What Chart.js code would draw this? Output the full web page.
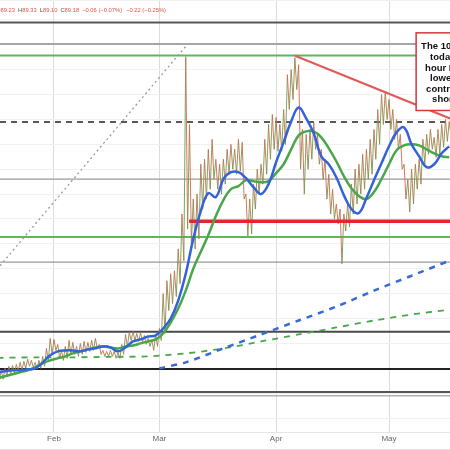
<!DOCTYPE html>
<html>
<head>
<meta charset="utf-8">
<script src="https://cdn.jsdelivr.net/npm/chart.js@4"></script>
<style>
    html, body { margin: 0; padding: 0; background: #fff; }
    #wrap { width: 450px; height: 450px; position: relative; }
</style>
</head>
<body>
<div id="wrap"><canvas id="chart"></canvas></div>
<script>
// daily high / low (day 0 = Jan 17)
const dayHigh = [
    64.6, 64.8, 65.0, 65.2, 65.3, 65.4, 65.6, 65.7, 65.9, 65.8,
    65.6, 65.8, 66.2, 67.0, 68.0, 67.9, 67.4, 66.8, 67.2, 67.8,
    67.6, 67.2, 67.5, 67.7, 67.6, 67.8, 68.0, 67.4, 66.8, 66.7,
    66.8, 66.7, 66.6, 67.4, 68.4, 68.6, 68.7, 68.5, 68.6, 68.3,
    68.0, 67.8, 68.4, 69.0, 72.5, 73.8, 74.5, 74.8, 77.0, 80.5,
    96.3, 89.5, 82.0, 82.5, 85.5, 86.0, 87.0, 88.0, 86.0, 85.5,
    86.0, 87.0, 87.5, 87.0, 88.0, 87.7, 82.5, 82.0, 83.5, 85.0,
    85.5, 88.0, 89.5, 90.5, 90.2, 89.5, 91.0, 94.5, 95.0, 96.2,
    95.5, 89.0, 88.5, 89.0, 89.7, 88.5, 87.0, 86.0, 84.5, 83.0,
    81.5, 81.0, 80.5, 81.5, 83.5, 85.0, 85.5, 86.5, 87.0, 88.0,
    89.0, 91.0, 92.5, 92.8, 92.0, 91.0, 90.0, 88.5, 85.5, 84.0,
    85.0, 85.5, 86.0, 88.0, 88.5, 89.0, 88.2, 89.0, 89.5, 90.0,
    89.8
];
const dayLow = [
    63.8, 63.9, 64.2, 64.4, 64.5, 64.7, 64.8, 65.0, 65.2, 65.1,
    64.9, 65.0, 65.2, 65.8, 66.4, 66.8, 66.0, 65.8, 66.0, 66.4,
    66.4, 66.2, 66.4, 66.6, 66.7, 66.8, 67.0, 66.4, 66.2, 66.2,
    66.2, 66.0, 66.0, 66.4, 67.2, 67.8, 67.8, 67.7, 67.6, 67.4,
    67.2, 66.8, 67.2, 67.8, 68.5, 70.8, 71.5, 72.2, 73.5, 75.8,
    79.0, 77.5, 77.0, 78.0, 81.0, 82.0, 83.0, 84.0, 83.0, 82.5,
    83.5, 84.5, 85.0, 84.5, 84.8, 82.0, 78.3, 78.5, 81.0, 82.5,
    83.5, 84.5, 86.0, 87.0, 86.8, 86.8, 87.5, 91.0, 92.0, 93.0,
    85.0, 82.5, 85.0, 86.0, 87.0, 85.5, 84.0, 82.0, 80.5, 80.0,
    79.5, 75.5, 78.8, 79.2, 80.5, 81.5, 82.5, 83.0, 84.0, 84.5,
    86.0, 87.5, 89.5, 90.0, 89.0, 88.0, 87.0, 85.0, 82.0, 80.7,
    81.5, 83.0, 83.5, 85.5, 86.5, 87.0, 86.2, 86.5, 87.2, 87.8,
    88.2
];

// moving averages, one value every 2 days
const ma100 = [
    64.6, 64.7, 64.8, 64.8, 64.9, 65.0, 65.6, 66.3, 66.7, 66.8,
    66.8, 66.7, 66.9, 67.0, 67.2, 67.1, 66.7, 67.1, 67.7, 67.9,
    68.2, 68.3, 69.0, 70.0, 71.8, 74.5, 78.0, 80.8, 82.6, 82.2,
    84.0, 84.7, 84.7, 84.1, 83.2, 82.5, 83.5, 85.7, 87.7, 89.8,
    91.2, 90.1, 88.6, 86.3, 85.5, 84.2, 82.4, 81.0, 80.6, 82.1,
    83.9, 85.6, 87.3, 88.7, 89.2, 87.5, 86.3, 85.2, 85.5, 86.6,
    87.3
];
const ma200 = [
    64.0, 64.2, 64.4, 64.6, 64.8, 65.1, 65.5, 65.8, 66.0, 66.2,
    66.5, 66.7, 66.9, 67.1, 67.2, 67.1, 67.0, 67.2, 67.3, 67.5,
    67.7, 67.9, 68.5, 69.6, 71.0, 72.8, 75.0, 76.7, 78.4, 80.3,
    81.9, 83.0, 83.3, 83.9, 83.8, 83.7, 83.8, 84.6, 85.5, 87.0,
    88.4, 88.8, 88.8, 88.2, 87.1, 85.8, 84.3, 83.1, 82.3, 82.0,
    82.7, 84.0, 85.5, 86.9, 87.4, 87.5, 87.4, 87.0, 86.6, 86.3,
    86.2
];

// slower averages (dashed)
const blueDashDays = [43, 50, 60, 70, 80, 90, 100, 110, 120];
const blueDashValues = [65.0, 65.6, 67.0, 68.4, 69.8, 71.2, 72.8, 74.3, 75.8];
const greenDashDays = [0, 10, 20, 30, 40, 50, 60, 70, 80, 90, 100, 110, 120];
const greenDashValues = [66.05, 66.1, 66.1, 66.15, 66.2, 66.5, 67.0, 67.7, 68.4, 69.1, 69.8, 70.4, 70.9];

// horizontal levels
const levelPrices = [99.75, 97.57, 96.43, 89.75, 84.0, 79.78, 78.2, 75.67, 68.67, 64.93, 62.63, 62.23];
const supportStartDay = 50.9;

// trend lines [day, price]
const riseLine = [[0.66, 75.3], [50.35, 97.5]];
const fallLine = [[79.04, 96.4], [120.2, 90.1]];

const monthTicks = [15, 43, 74, 104];
const monthLabels = ['Feb', 'Mar', 'Apr', 'May'];

const headerQuote = [['O', '89.23'], ['H', '89.33'], ['L', '89.10'], ['C', '89.18']];
const headerChange = ['\u22120.06 (\u22120.07%)', '\u22120.22 (\u22120.25%)'];
const noteLines = ['The 100 hour MA', 'today held the', 'hour MA and is', 'lower. Sellers in', 'control on the', 'short side'];
const noteBox = { day: 111.2, top: 98.7, bottom: 90.9 };

const xMin = 0.66, xMax = 120.2;

// zigzag high -> low each day, reads like a run of tiny candles
const pricePoints = [];
dayHigh.forEach((h, i) => {
    pricePoints.push({ x: i, y: h });
    pricePoints.push({ x: i + 0.5, y: dayLow[i] });
});

const levelStyles = [
    { color: '#555', width: 2 },
    { color: '#8a8a8a', width: 1.5 },
    { color: '#5cb85c', width: 2 },
    { color: '#222', width: 1.5, dash: [6, 5] },
    { color: '#9a9a9a', width: 1.2 },
    { color: '#e3262b', width: 3.5 },
    { color: '#5cb85c', width: 2 },
    { color: '#9a9a9a', width: 1.2 },
    { color: '#4a4a4a', width: 2 },
    { color: '#222', width: 2 },
    { color: '#555', width: 2 },
    { color: '#b0b0b0', width: 1.5 }
];

const levelSets = levelPrices.map((p, i) => ({
    data: [{ x: i === 5 ? supportStartDay : xMin, y: p }, { x: xMax, y: p }],
    borderColor: levelStyles[i].color,
    borderWidth: levelStyles[i].width,
    borderDash: levelStyles[i].dash || [],
    order: i === 5 ? 3 : 10
}));

const overlay = {
    id: 'overlay',
    afterDatasetsDraw(chart) {
        const { ctx, scales: { x, y } } = chart;
        // note box covers the falling trend line
        const left = x.getPixelForValue(noteBox.day);
        const top = y.getPixelForValue(noteBox.top);
        const bottom = y.getPixelForValue(noteBox.bottom);
        ctx.save();
        ctx.fillStyle = '#fff';
        ctx.fillRect(left, top, 60, bottom - top);
        ctx.strokeStyle = '#d23a3a';
        ctx.lineWidth = 1.5;
        ctx.strokeRect(left, top, 60, bottom - top);
        ctx.fillStyle = '#111';
        ctx.font = 'bold 9.5px "Liberation Sans", Arial, sans-serif';
        ctx.textBaseline = 'middle';
        const offsets = [5, 14, 9, 14, 10, 16];
        noteLines.forEach((t, i) => {
            ctx.fillText(t, left + offsets[i], top + 14 + i * 10.6);
        });
        ctx.restore();
    },
    afterDraw(chart) {
        const ctx = chart.ctx;
        ctx.save();
        ctx.font = '5.8px "Liberation Sans", Arial, sans-serif';
        ctx.textBaseline = 'middle';
        let cx = -4;
        headerQuote.forEach(([k, v]) => {
            ctx.fillStyle = '#555';
            ctx.fillText(k, cx, 10);
            cx += ctx.measureText(k).width;
            ctx.fillStyle = '#e0534a';
            ctx.fillText(v, cx, 10);
            cx += ctx.measureText(v).width + 3;
        });
        ctx.fillStyle = '#e0534a';
        headerChange.forEach(t => {
            ctx.fillText(t, cx, 10);
            cx += ctx.measureText(t).width + 4;
        });
        ctx.strokeStyle = '#e2e2e2';
        ctx.lineWidth = 1;
        ctx.beginPath();
        ctx.moveTo(0, 449.5);
        ctx.lineTo(450, 449.5);
        ctx.stroke();
        ctx.restore();
    }
};

new Chart(document.getElementById('chart'), {
    type: 'line',
    data: {
        datasets: [
            {
                data: pricePoints,
                borderWidth: 0.9,
                borderColor: '#c8684a',
                segment: {
                    borderColor: c => c.p1.parsed.y >= c.p0.parsed.y ? '#6f9a4c' : '#d0684c'
                },
                order: 5
            },
            {
                data: ma100.map((v, i) => ({ x: i * 2, y: v })),
                borderColor: '#3462d9',
                borderWidth: 2.5,
                tension: 0.4,
                order: 2
            },
            {
                data: ma200.map((v, i) => ({ x: i * 2, y: v })),
                borderColor: '#4aa64a',
                borderWidth: 2.5,
                tension: 0.4,
                order: 2
            },
            {
                data: blueDashDays.map((d, i) => ({ x: d, y: blueDashValues[i] })),
                borderColor: '#3a6ad8',
                borderWidth: 2.5,
                borderDash: [6, 6],
                tension: 0.3,
                order: 2
            },
            {
                data: greenDashDays.map((d, i) => ({ x: d, y: greenDashValues[i] })),
                borderColor: '#4aa64a',
                borderWidth: 1.8,
                borderDash: [6, 6],
                tension: 0.3,
                order: 2
            },
            {
                data: riseLine.map(([d, p]) => ({ x: d, y: p })),
                borderColor: '#999',
                borderWidth: 1.3,
                borderDash: [2, 3],
                order: 1
            },
            {
                data: fallLine.map(([d, p]) => ({ x: d, y: p })),
                borderColor: '#e05a5a',
                borderWidth: 2,
                order: 1
            },
            ...levelSets
        ]
    },
    options: {
        responsive: true,
        maintainAspectRatio: false,
        animation: false,
        layout: { padding: { left: 0, right: 0, top: 0, bottom: 4 } },
        elements: { point: { radius: 0 } },
        plugins: { legend: { display: false }, tooltip: { enabled: false } },
        scales: {
            x: {
                type: 'linear',
                min: xMin,
                max: xMax,
                afterBuildTicks: s => { s.ticks = monthTicks.map(v => ({ value: v })); },
                ticks: {
                    autoSkip: false,
                    maxRotation: 0,
                    padding: 2,
                    color: '#666',
                    font: { size: 8, family: '"Liberation Sans", Arial, sans-serif' },
                    callback: (v, i) => monthLabels[i]
                },
                grid: { color: '#dcdcdc', drawTicks: false },
                border: { color: '#e6e6e6' }
            },
            y: {
                min: 58.56,
                max: 102,
                ticks: { display: false, stepSize: 2.5 },
                grid: { color: '#f1f1f1', drawTicks: false },
                border: { display: false }
            }
        }
    },
    plugins: [overlay]
});
</script>
</body>
</html>
